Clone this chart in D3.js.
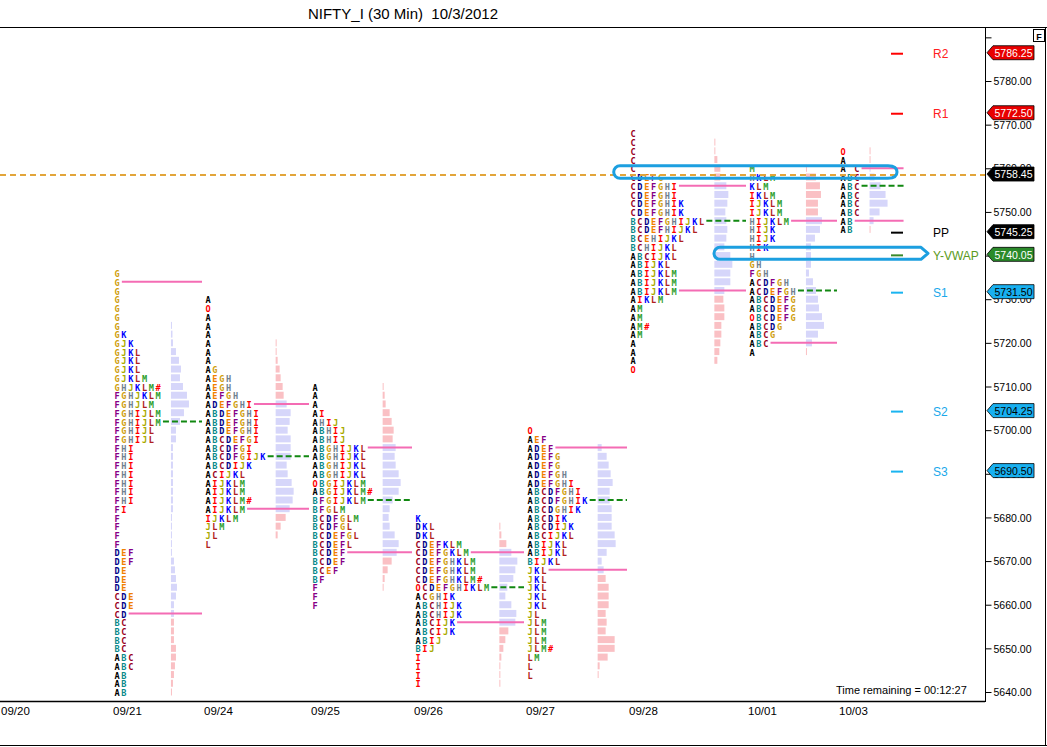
<!DOCTYPE html>
<html>
<head>
<meta charset="utf-8">
<script src="https://cdn.jsdelivr.net/npm/d3@7"></script>
<style>
  body { margin: 0; background: #fff; }
  svg { display: block; }
</style>
</head>
<body>
<div id="chart"></div>
<script>
// date labels along the bottom (09/20 profile is off screen)
const dateLabels = ["09/20", "09/21", "09/24", "09/25", "09/26", "09/27", "09/28", "10/01", "10/03"];
const profileDates = ["09/21", "09/24", "09/25", "09/26", "09/27", "09/28", "10/01", "10/03"];

// highest TPO price of each day, rows step down 2 points
const topPrices = [5736, 5730, 5710, 5680, 5700, 5768, 5760, 5764];
const vahPrices = [5734, 5706, 5696, 5672, 5696, 5756, 5748, 5760];
const pocPrices = [5702, 5694, 5684, 5664, 5684, 5748, 5732, 5756];
const valPrices = [5658, 5682, 5672, 5656, 5668, 5732, 5720, 5748];

const tpo0921 = ["G","G","G","G","G","G","G","GK","GJK","GJKL","GJKL","GJKL","GJKLM","GHJKLM#","FGHJKLM","FGHJLM",
  "FGHIJLM","FGHIJLM","FGHIJL","FGHIJL","FHI","FHI","FHI","FHI","FHI","FHI","FHI","FI","F","F","F","F",
  "DEF","DEF","DE","DE","DE","CDE","CDE","CD","BC","BC","BC","BC","ABC","ABC","AB","AB","AB"];
const tpo0924 = ["A","O","A","A","A","A","A","A","AG","AEGH","AEGH","AEFGH","ADEFGHI","ABDEFGHI","ABDEFGHI","ABDEFGHI",
  "ABCDEFGI","ABCDFGI","ABCDFGIJK","ABCDIJK","ACIJKL","AIJKLM","AIJKLM","AIJKLM#","AIJKLM","IJKLM","JLM","JL","L"];
const tpo0925 = ["A","A","A","AI","AHIJ","ABHIJ","ABHIJ","ABGHIJKL","ABGHIJKL","ABGHIJKL","ABGHIJKL","OBGIJKLM","ABGIJKLM#",
  "BFGIJKLM","BFGLM","BCDFGLM","BCDFGL","BCDEFGL","BCDEFL","BCDEF","BCDEF","BCEF","BF","F","F","F"];
const tpo0926 = ["K","DKL","DKL","CDEFKLM","CDEFGKLM","CDEFGHKLM","CDEFGHKLM","CDEFGHKLM#","OCDEFGHIKLM","ACGHIK",
  "ABCHIJK","ABCHIJK","ABCIJK","ABCIJK","ABIJ","BIJ","I","I","I","I"];
const tpo0927 = ["O","AEF","ADEF","ADEFG","ADEFG","ADEFGH","ADEFGHI","ABCDFGHI","ABCDFGHIK","ABCDGHIK","ABCDIK","ABCDIJK",
  "ABCIJKL","ABIJKL","ABIJKL","BIJKL","JKL","JKL","JKL","JKL","JKL","JL","JLM","JLM","JLM","JLM#","LM","L","L"];
const tpo0928 = ["C","C","C","C","C","CDEFG","CDEFGHI","CDEFGHI","CDEFGHIK","CDEFGHIK","BCDEFGHIJKL","BCDEFHIJKL","BCEHIJKL",
  "BCHIJKL","ABCIJKL","ABIJKL","ABIJKLM","ABIJKLM","ABIJKLM","AIKLM","AM","AM","AM#","AM","A","A","A","O"];
const tpo1001 = ["M","HKLM","KLM","IKLM","IJKLM","IJKLM","HIJKLM","HIJK","HIJK","HIK","H","GH","FGH","ACDFGH","ACDEFGH",
  "ABCDEFG","ABCDEFG","OBCDEFG","ABCDG","ABCG","ABC","A"];
const tpo1003 = ["O","A","A C","ABC","ABC","ABC","ABC","ABC","AB","AB"];

// volume at price, same rows as the TPO lists
const vol0921 = [0,0,0,0,0,0,1,1.5,2,5,8,10,9,12,16,18,13,9,5,5,2,2,2,2,2,2,2,2,1,1,1,1,1,3,4,5,6,5,3,3,3,3,3,5,5,4,3,2,1];
const vol0924 = [0,0,0,0,0,0.5,1,2,4,5,7,8,11,15,14,12,15,15,15,11,12,16,18,17,14,10,5,2,0];
const vol0925 = [1,2,3,7,9,11,10,13,12,13,16,18,16,10,7,6,7,12,16,14,9,5,2,1,0,0];
const vol0926 = [0,1,2,7,12,18,16,14,8,6,12,17,16,9,6,4,2,1,0.5,0.5];
const vol0927 = [0,0,4,9,11,13,15,12,12,14,14,14,17,18,9,4,6,8,11,11,11,8,9,8,17,17,10,2,1];
const vol0928 = [0,1,1,3,6,6,12,14,13,11,12,13,12,10,16,18,16,16,10,9,10,10,7,7,6,5,3,0];
const vol1001 = [1,10,14,15,12,12,16,14,9,5,5,5,3,7,10,12,13,16,18,12,6,1];
const vol1003 = [1,1,1,5,11,16,18,10,4,1];

const tpoRows = [tpo0921, tpo0924, tpo0925, tpo0926, tpo0927, tpo0928, tpo1001, tpo1003];
const volRows = [vol0921, vol0924, vol0925, vol0926, vol0927, vol0928, vol1001, vol1003];

const pivotNames = ["R2", "R1", "PP", "Y-VWAP", "S1", "S2", "S3"];
const pivotValues = [5786.25, 5772.50, 5745.25, 5740.05, 5731.50, 5704.25, 5690.50];
const lastPrice = 5758.45;
const priceTicks = [5640, 5650, 5660, 5670, 5680, 5690, 5700, 5710, 5720, 5730, 5740, 5750, 5760, 5770, 5780, 5790];

const W = 1047, H = 747;
const plotRight = 985, plotTop = 27, plotBottom = 701;
const pitch = 6.85;

const letterColor = {
  A: "#000000", B: "#0a8a8a", C: "#990022", D: "#000088", E: "#f08000", F: "#860086",
  G: "#d0a010", H: "#70808f", I: "#ff0000", J: "#aaaa00", K: "#0000ff", L: "#b02020",
  M: "#30a030", O: "#ff0000", "#": "#ff0000"
};
const pivotColor = { "R2": "#ff0000", "R1": "#ff0000", "PP": "#000000", "Y-VWAP": "#3a8a2a",
  "S1": "#1ab4f0", "S2": "#1ab4f0", "S3": "#1ab4f0" };
const pivotText = { "R2": "#ff2020", "R1": "#ff2020", "PP": "#000000", "Y-VWAP": "#5a9a20",
  "S1": "#1aa8ea", "S2": "#1aa8ea", "S3": "#1aa8ea" };
const tagFill = { "R2": "#e80000", "R1": "#e80000", "PP": "#000000", "Y-VWAP": "#2a8a2a",
  "S1": "#18b0f0", "S2": "#18b0f0", "S3": "#18b0f0", "LAST": "#000000" };
const tagText = { "R2": "#fff", "R1": "#fff", "PP": "#fff", "Y-VWAP": "#fff",
  "S1": "#000", "S2": "#000", "S3": "#000", "LAST": "#fff" };

const y = d3.scaleLinear().domain([5640, 5780]).range([692, 81]);
const x = d3.scaleOrdinal().domain(dateLabels).range([1, 114, 205, 312, 415, 527, 630, 749, 840]);
const volW = d3.scaleLinear().domain([0, 20]).range([0, 20]);

const svg = d3.select("#chart").append("svg")
  .attr("width", W).attr("height", H)
  .style("font-family", "'Liberation Sans', Arial, sans-serif");

svg.append("text")
  .attr("x", 403).attr("y", 19)
  .attr("text-anchor", "middle")
  .attr("font-size", 15)
  .style("white-space", "pre")
  .text("NIFTY_I (30 Min)  10/3/2012");

const plot = svg.append("g");
const histG = plot.append("g");
const lineG = plot.append("g");
const textG = plot.append("g")
  .style("font-family", "'DejaVu Sans Mono', monospace")
  .attr("font-size", 8.6)
  .attr("font-weight", "bold");

profileDates.forEach(function(date, i) {
  const rows = tpoRows[i];
  const vols = volRows[i];
  const top = topPrices[i];
  const start = x(date);
  const maxLen = d3.max(rows, r => r.length);
  const histX = start + maxLen * pitch + 9;
  const endX = i < profileDates.length - 1 ? x(profileDates[i + 1]) - 3 : histX + 34;
  const data = rows.map((r, j) => ({ price: top - 2 * j, text: r, vol: vols[j] }));

  histG.selectAll(null)
    .data(data.filter(d => d.vol > 0))
    .enter()
    .append("rect")
    .attr("x", histX)
    .attr("y", d => y(d.price) - 3.5)
    .attr("width", d => Math.max(1, volW(d.vol)))
    .attr("height", 7)
    .attr("fill", d => (d.price <= vahPrices[i] && d.price >= valPrices[i]) ? "#d6d6fa" : "#fac0c4");

  function lineFrom(price) {
    const row = data.find(d => d.price === price);
    return start + row.text.length * pitch + 1;
  }
  [vahPrices[i], valPrices[i]].forEach(function(p) {
    lineG.append("line")
      .attr("x1", lineFrom(p)).attr("x2", endX)
      .attr("y1", y(p)).attr("y2", y(p))
      .attr("stroke", "#f46cb4").attr("stroke-width", 2);
  });
  lineG.append("line")
    .attr("x1", lineFrom(pocPrices[i])).attr("x2", endX)
    .attr("y1", y(pocPrices[i])).attr("y2", y(pocPrices[i]))
    .attr("stroke", "#118811").attr("stroke-width", 2)
    .attr("stroke-dasharray", "6,3");

  const letters = [];
  data.forEach(function(d) {
    d.text.split("").forEach(function(c, k) {
      if (c !== " ") letters.push({ c: c, k: k, price: d.price });
    });
  });
  textG.selectAll(null)
    .data(letters)
    .enter()
    .append("text")
    .attr("x", d => start + d.k * pitch + 0.5)
    .attr("y", d => y(d.price) + 4.1)
    .attr("fill", d => letterColor[d.c])
    .text(d => d.c);
});

// last price dashed line
svg.append("line")
  .attr("x1", 0).attr("x2", plotRight)
  .attr("y1", y(lastPrice)).attr("y2", y(lastPrice))
  .attr("stroke", "#e2a53a").attr("stroke-width", 2)
  .attr("stroke-dasharray", "6,4");

// hand drawn highlight shapes
const c1 = y(lastPrice) - 3;
svg.append("path")
  .attr("d", `M620,${c1 - 6.3} H888 Q897,${c1 - 6} 897,${c1} Q897,${c1 + 6} 888,${c1 + 6.3} H620 A6.3,6.3 0 0 1 620,${c1 - 6.3} Z`)
  .attr("fill", "none").attr("stroke", "#1c9fe0").attr("stroke-width", 3);
const c2 = y(pivotValues[3]) - 2;
svg.append("path")
  .attr("d", `M720,${c2 - 6} H921 L928,${c2} L921,${c2 + 6} H720 A6,6 0 0 1 720,${c2 - 6} Z`)
  .attr("fill", "none").attr("stroke", "#1c9fe0").attr("stroke-width", 3)
  .attr("stroke-linejoin", "round");

// pivot markers
pivotNames.forEach(function(name, i) {
  const v = pivotValues[i];
  svg.append("line")
    .attr("x1", 891).attr("x2", 903)
    .attr("y1", y(v)).attr("y2", y(v))
    .attr("stroke", pivotColor[name]).attr("stroke-width", 2);
  svg.append("text")
    .attr("x", 933).attr("y", y(v) + 4.5)
    .attr("font-size", 12)
    .attr("fill", pivotText[name])
    .text(name);
});

// frame
svg.append("line").attr("x1", 0).attr("x2", W).attr("y1", plotTop + 0.5).attr("y2", plotTop + 0.5).attr("stroke", "#000");
svg.append("line").attr("x1", 0).attr("x2", W).attr("y1", H - 1.5).attr("y2", H - 1.5).attr("stroke", "#000");
svg.append("line").attr("x1", W - 1.5).attr("x2", W - 1.5).attr("y1", plotTop).attr("y2", H - 1).attr("stroke", "#000");
svg.append("line").attr("x1", 0).attr("x2", plotRight).attr("y1", plotBottom + 0.5).attr("y2", plotBottom + 0.5).attr("stroke", "#000").attr("stroke-width", 1.5);
svg.append("line").attr("x1", plotRight + 0.5).attr("x2", plotRight + 0.5).attr("y1", plotTop).attr("y2", plotBottom + 1).attr("stroke", "#000");

// price axis
const yAxis = d3.axisRight(y)
  .tickValues(priceTicks)
  .tickSize(6)
  .tickPadding(2)
  .tickFormat(d => d < 5790 ? d.toFixed(2) : "");
const yAxisG = svg.append("g")
  .attr("transform", `translate(${plotRight + 0.5},0)`)
  .call(yAxis);
yAxisG.select(".domain").remove();
yAxisG.selectAll("text")
  .attr("font-family", "'Liberation Sans', Arial, sans-serif")
  .attr("font-size", 11.5)
  .attr("fill", "#000")
  .attr("textLength", d => d < 5790 ? 38 : null)
  .attr("lengthAdjust", "spacingAndGlyphs");

// price tags on the axis
const tagNames = pivotNames.concat(["LAST"]);
const tagValues = pivotValues.concat([lastPrice]);
tagNames.forEach(function(name, i) {
  const cy = y(tagValues[i]) - 1;
  svg.append("path")
    .attr("d", `M987,${cy} L993,${cy - 7} H1034 V${cy + 7} H993 Z`)
    .attr("fill", tagFill[name]).attr("stroke", "#000").attr("stroke-width", 0.8);
  svg.append("text")
    .attr("x", 994.5).attr("y", cy + 4.3)
    .attr("font-size", 11.5)
    .attr("textLength", 38)
    .attr("lengthAdjust", "spacingAndGlyphs")
    .attr("fill", tagText[name])
    .text(tagValues[i].toFixed(2));
});

// F box
svg.append("rect").attr("x", 1033.5).attr("y", 29.5).attr("width", 11).attr("height", 12)
  .attr("fill", "#fff").attr("stroke", "#000");
svg.append("text").attr("x", 1039).attr("y", 39.5).attr("text-anchor", "middle")
  .attr("font-size", 9).attr("font-weight", "bold").text("F");

// date labels
svg.selectAll(".dlab")
  .data(dateLabels)
  .enter()
  .append("text")
  .attr("class", "dlab")
  .attr("x", d => x(d) - (d === "09/20" ? 0 : 1))
  .attr("y", 715)
  .attr("font-size", 11.5)
  .text(d => d);

svg.append("text")
  .attr("x", 836).attr("y", 694)
  .attr("font-size", 11)
  .text("Time remaining = 00:12:27");
</script>
</body>
</html>
